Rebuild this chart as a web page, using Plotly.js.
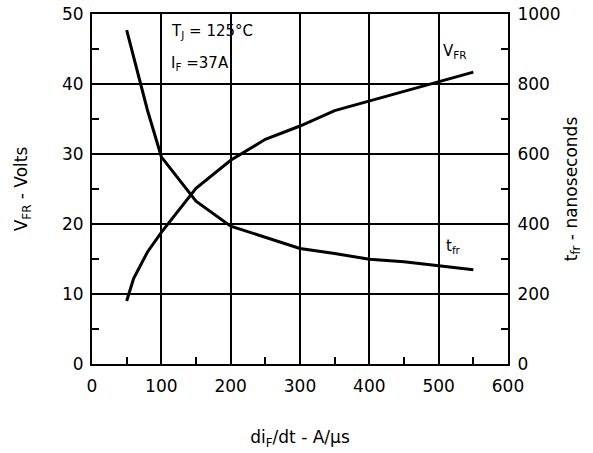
<!DOCTYPE html>
<html>
<head>
<meta charset="utf-8">
<script src="https://cdn.plot.ly/plotly-3.0.1.min.js"></script>
<style>html,body{margin:0;padding:0;background:#fff;}#chart{width:593px;height:453px;}</style>
</head>
<body>
<div id="chart"></div>
<script>
// di/dt (A/us)
var vfrX = [50, 60, 80, 100, 150, 200, 250, 300, 350, 400, 450, 500, 550];
var vfrY = [9.0, 12.2, 16.0, 18.8, 25.1, 29.1, 32.1, 34.0, 36.2, 37.6, 39.0, 40.4, 41.7];
var tfrX = [50, 60, 70, 80, 100, 150, 200, 250, 300, 350, 400, 450, 500, 550];
var tfrY = [954, 880, 800, 725, 592, 465, 394, 362, 330, 316, 299, 292, 281, 269];

var xTickVals = [0, 100, 200, 300, 400, 500, 600];
var yTickVals = [0, 10, 20, 30, 40, 50];
var y2TickVals = [0, 100, 200, 300, 400, 500, 600, 700, 800, 900, 1000];
var y2TickText = ['0', '', '200', '', '400', '', '600', '', '800', '', '1000'];

var FAM = 'DejaVu Sans, Verdana, sans-serif';
var font = {family: FAM, size: 17, color: '#000'};
var small = {family: FAM, size: 15, color: '#000'};

var traces = [
  {x: vfrX, y: vfrY, mode: 'lines', line: {color: '#000', width: 3}, xaxis: 'x', yaxis: 'y', hoverinfo: 'skip'},
  {x: tfrX, y: tfrY, mode: 'lines', line: {color: '#000', width: 3}, xaxis: 'x', yaxis: 'y2', hoverinfo: 'skip'}
];

var layout = {
  width: 593, height: 453,
  margin: {l: 92, r: 85, t: 14, b: 89},
  paper_bgcolor: '#fff', plot_bgcolor: '#fff',
  showlegend: false,
  font: font,
  xaxis: {
    range: [0, 600], tickmode: 'array', tickvals: xTickVals,
    showgrid: true, gridcolor: '#000', gridwidth: 1.5,
    showline: true, linecolor: '#000', linewidth: 2, mirror: true,
    ticks: 'inside', ticklen: 1, tickwidth: 1, tickcolor: '#000', ticklabelstandoff: 6,
    minor: {dtick: 50, tick0: 0, ticks: 'inside', ticklen: 7, tickwidth: 1.5, tickcolor: '#000', showgrid: false},
    zeroline: false, automargin: false,
    tickfont: font,
    title: {text: 'di<sub>F</sub>/dt - A/µs', font: font, standoff: 36}
  },
  yaxis: {
    range: [0, 50], tickmode: 'array', tickvals: yTickVals,
    showgrid: true, gridcolor: '#000', gridwidth: 1.5,
    showline: true, linecolor: '#000', linewidth: 2,
    ticks: 'inside', ticklen: 7, tickwidth: 2, tickcolor: '#000', ticklabelstandoff: 3,
    minor: {dtick: 5, tick0: 0, ticks: 'inside', ticklen: 7, tickwidth: 1.5, tickcolor: '#000', showgrid: false},
    zeroline: false, automargin: false,
    tickfont: font,
    title: {text: 'V<sub>FR</sub> - Volts', font: font, standoff: 30}
  },
  yaxis2: {
    range: [0, 1000], tickmode: 'array', tickvals: y2TickVals, ticktext: y2TickText,
    overlaying: 'y', side: 'right', anchor: 'x',
    showgrid: false,
    showline: true, linecolor: '#000', linewidth: 2,
    ticks: 'inside', ticklen: 7, tickwidth: 1.5, tickcolor: '#000', ticklabelstandoff: 4,
    zeroline: false, automargin: false,
    tickfont: font,
    title: {text: 't<sub>fr</sub> - nanoseconds', font: font, standoff: 5}
  },
  annotations: [
    {xref: 'x', yref: 'y', x: 111, y: 47.5, xanchor: 'left', yanchor: 'middle', showarrow: false,
     text: 'T<sub>J</sub> = 125°C', font: small},
    {xref: 'x', yref: 'y', x: 111, y: 43.0, xanchor: 'left', yanchor: 'middle', showarrow: false,
     text: 'I<sub>F</sub> =37A', font: small},
    {xref: 'x', yref: 'y', x: 503, y: 44.6, xanchor: 'left', yanchor: 'middle', showarrow: false,
     text: 'V<sub>FR</sub>', font: small},
    {xref: 'x', yref: 'y', x: 508, y: 16.8, xanchor: 'left', yanchor: 'middle', showarrow: false,
     text: 't<sub>fr</sub>', font: small}
  ]
};

Plotly.newPlot('chart', traces, layout, {displayModeBar: false});
</script>
</body>
</html>
